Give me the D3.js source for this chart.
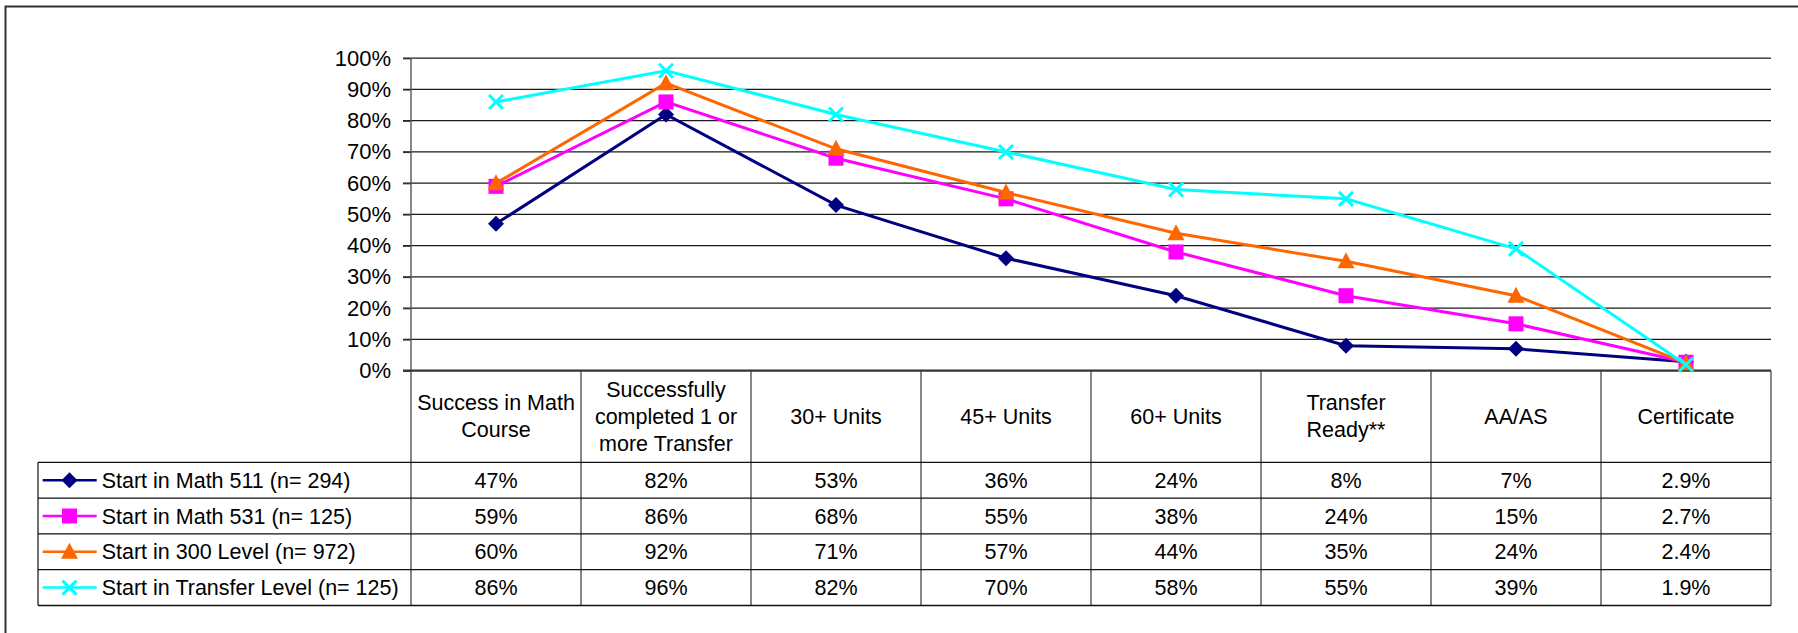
<!DOCTYPE html>
<html>
<head>
<meta charset="utf-8">
<script src="https://cdn.jsdelivr.net/npm/d3@7"></script>
<style>
  body { margin: 0; background: #fff; }
  svg { display: block; font-family: "Liberation Sans", Arial, sans-serif; }
</style>
</head>
<body>
<script>
// chart data
const categories = ["Success in Math Course", "Successfully completed 1 or more Transfer", "30+ Units", "45+ Units", "60+ Units", "Transfer Ready**", "AA/AS", "Certificate"];
const headerLines = [["Success in Math", "Course"], ["Successfully", "completed 1 or", "more Transfer"], ["30+ Units"], ["45+ Units"], ["60+ Units"], ["Transfer", "Ready**"], ["AA/AS"], ["Certificate"]];
const seriesNames = ["Start in Math 511 (n= 294)", "Start in Math 531 (n= 125)", "Start in 300 Level (n= 972)", "Start in Transfer Level (n= 125)"];
const math511 = [47, 82, 53, 36, 24, 8, 7, 2.9];
const math531 = [59, 86, 68, 55, 38, 24, 15, 2.7];
const level300 = [60, 92, 71, 57, 44, 35, 24, 2.4];
const transfer = [86, 96, 82, 70, 58, 55, 39, 1.9];
const yTicks = [0, 10, 20, 30, 40, 50, 60, 70, 80, 90, 100];

const colors = ["#000080", "#ff00ff", "#ff6600", "#00ffff"];
const markers = ["diamond", "square", "triangle", "cross"];
const seriesValues = [math511, math531, level300, transfer];

const width = 1798;
const height = 633;

const svg = d3.select("body")
  .append("svg")
  .attr("width", width)
  .attr("height", height);

// layout
const plotLeft = 411, plotRight = 1771;
const plotTop = 58.2, plotBottom = 370.7;
const headerBottom = 462.3;
const rowH = 35.8;
const legendLeft = 38;
const tableBottom = headerBottom + rowH * seriesNames.length;

// outer frame
svg.append("path")
  .attr("d", `M5.5,${height + 5}V6.5H${width + 5}`)
  .attr("fill", "none")
  .attr("stroke", "#333")
  .attr("stroke-width", 2);

const x = d3.scaleBand()
  .domain(categories)
  .range([plotLeft, plotRight]);

const y = d3.scaleLinear()
  .domain([0, 100])
  .range([plotBottom, plotTop]);

// gridlines
svg.append("g")
  .selectAll("line")
  .data(yTicks.filter(d => d > 0))
  .enter().append("line")
    .attr("x1", plotLeft - 8)
    .attr("x2", plotRight)
    .attr("y1", d => y(d))
    .attr("y2", d => y(d))
    .attr("stroke", "#1a1a1a")
    .attr("stroke-width", 1.3);

// y axis
const yAxis = svg.append("g")
  .attr("transform", `translate(${plotLeft},0)`)
  .call(d3.axisLeft(y).tickValues(yTicks).tickFormat(d => d + "%").tickSize(8).tickPadding(12));
yAxis.select(".domain").remove();
yAxis.selectAll(".tick line").attr("stroke", "#333").attr("stroke-width", 1.3);
yAxis.selectAll(".tick text")
  .attr("font-size", 22)
  .attr("font-family", "Liberation Sans, Arial, sans-serif")
  .attr("fill", "#000");

// table: vertical dividers
const dividers = x.domain().map(d => x(d)).concat([plotRight]);
svg.append("g")
  .selectAll("line")
  .data(dividers)
  .enter().append("line")
    .attr("x1", d => d)
    .attr("x2", d => d)
    .attr("y1", (d, i) => i === 0 ? plotTop : plotBottom)
    .attr("y2", tableBottom)
    .attr("stroke", "#555")
    .attr("stroke-width", 1.4);

// legend column left edge
svg.append("line")
  .attr("x1", legendLeft).attr("x2", legendLeft)
  .attr("y1", headerBottom).attr("y2", tableBottom)
  .attr("stroke", "#222").attr("stroke-width", 1.3);

// horizontal row lines
const rowLines = d3.range(seriesNames.length + 1).map(i => headerBottom + i * rowH);
svg.append("g")
  .selectAll("line")
  .data(rowLines)
  .enter().append("line")
    .attr("x1", legendLeft)
    .attr("x2", plotRight)
    .attr("y1", d => d)
    .attr("y2", d => d)
    .attr("stroke", "#111")
    .attr("stroke-width", 1.3);

// x axis line (0%)
svg.append("line")
  .attr("x1", plotLeft - 8).attr("x2", plotRight)
  .attr("y1", y(0)).attr("y2", y(0))
  .attr("stroke", "#333").attr("stroke-width", 2.2);

// header labels
const headerMid = (plotBottom + headerBottom) / 2;
const lineH = 27;
const header = svg.append("g")
  .selectAll("text")
  .data(categories)
  .enter().append("text")
    .attr("x", d => x(d) + x.bandwidth() / 2)
    .attr("text-anchor", "middle")
    .attr("font-size", 21.5)
    .attr("fill", "#000");
header.each(function(d, i) {
  const lines = headerLines[i];
  const start = headerMid - (lines.length - 1) * lineH / 2 + 7;
  d3.select(this).selectAll("tspan")
    .data(lines)
    .enter().append("tspan")
      .attr("x", x(d) + x.bandwidth() / 2)
      .attr("y", (l, j) => start + j * lineH)
      .text(l => l);
});

// table values
const fmt = v => Number.isInteger(v) ? v + "%" : v.toFixed(1) + "%";
seriesValues.forEach((vals, s) => {
  svg.append("g")
    .selectAll("text")
    .data(vals)
    .enter().append("text")
      .attr("x", (d, i) => x(categories[i]) + x.bandwidth() / 2)
      .attr("y", headerBottom + s * rowH + rowH / 2 + 7.5)
      .attr("text-anchor", "middle")
      .attr("font-size", 21.5)
      .attr("fill", "#000")
      .text(fmt);
});

// marker drawing
const drawMarker = (g, type, color, cx, cy) => {
  if (type === "diamond") {
    g.append("path").attr("d", `M${cx},${cy - 8}L${cx + 8},${cy}L${cx},${cy + 8}L${cx - 8},${cy}Z`).attr("fill", color);
  } else if (type === "square") {
    g.append("rect").attr("x", cx - 7.5).attr("y", cy - 7.5).attr("width", 15).attr("height", 15).attr("fill", color);
  } else if (type === "triangle") {
    g.append("path").attr("d", `M${cx},${cy - 9}L${cx + 8.5},${cy + 7}L${cx - 8.5},${cy + 7}Z`).attr("fill", color);
  } else {
    g.append("path").attr("d", `M${cx - 7},${cy - 7}L${cx + 7},${cy + 7}M${cx + 7},${cy - 7}L${cx - 7},${cy + 7}`)
      .attr("stroke", color).attr("stroke-width", 3).attr("fill", "none");
  }
};

// series lines and markers
const line = d3.line()
  .x((d, i) => x(categories[i]) + x.bandwidth() / 2)
  .y(d => y(d));

seriesValues.forEach((vals, s) => {
  const g = svg.append("g");
  g.append("path")
    .datum(vals)
    .attr("d", line)
    .attr("fill", "none")
    .attr("stroke", colors[s])
    .attr("stroke-width", 3);
  vals.forEach((v, i) => {
    drawMarker(g, markers[s], colors[s], x(categories[i]) + x.bandwidth() / 2, y(v));
  });
});

// legend keys in table
seriesNames.forEach((name, s) => {
  const cy = headerBottom + s * rowH + rowH / 2;
  const g = svg.append("g");
  g.append("line")
    .attr("x1", 42.7).attr("x2", 96.7)
    .attr("y1", cy).attr("y2", cy)
    .attr("stroke", colors[s]).attr("stroke-width", 2.5);
  drawMarker(g, markers[s], colors[s], 69.5, cy);
  g.append("text")
    .attr("x", 101.7)
    .attr("y", cy + 7.5)
    .attr("font-size", 21.5)
    .attr("fill", "#000")
    .text(name);
});
</script>
</body>
</html>
